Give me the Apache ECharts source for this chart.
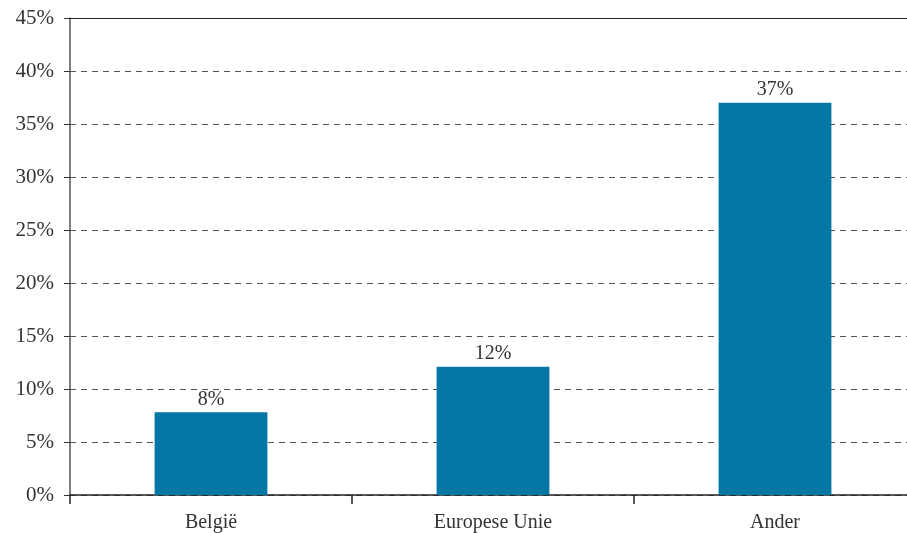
<!DOCTYPE html>
<html>
<head>
<meta charset="utf-8">
<script src="https://cdn.jsdelivr.net/npm/echarts@6/dist/echarts.min.js"></script>
<style>html,body{margin:0;padding:0;background:#fff}#c{width:907px;height:533px}</style>
</head>
<body>
<div id="c"></div>
<script>
const categories = ['België', 'Europese Unie', 'Ander'];
const values = [7.8, 12.1, 37.0];
const yTicks = [0, 5, 10, 15, 20, 25, 30, 35, 40, 45];

const chart = echarts.init(document.getElementById('c'), null, {renderer: 'canvas'});
const font = 'Liberation Serif';
chart.setOption({
  animation: false,
  grid: {left: 70, top: 18, width: 846, bottom: 38, containLabel: false, outerBoundsMode: 'none'},
  xAxis: [{
    type: 'category',
    data: categories,
    axisLine: {lineStyle: {color: '#222', width: 1.5}},
    axisTick: {show: true, length: 9, lineStyle: {color: '#222', width: 1.5}},
    axisLabel: {color: '#333', fontFamily: font, fontSize: 20, margin: 18}
  }, {
    type: 'category',
    position: 'top',
    data: categories,
    axisLine: {show: true, lineStyle: {color: '#222', width: 1.2}},
    axisTick: {show: false},
    axisLabel: {show: false}
  }],
  yAxis: {
    type: 'value',
    min: 0, max: 45, interval: 5,
    axisLine: {show: true, lineStyle: {color: '#555', width: 1.5}},
    axisTick: {show: true, length: 6, lineStyle: {color: '#333'}},
    axisLabel: {color: '#333', fontFamily: font, fontSize: 21, margin: 16,
      formatter: v => yTicks.includes(v) ? v + '%' : ''},
    splitLine: {show: true, lineStyle: {color: '#555', type: [6, 5], width: 1}}
  },
  series: [{
    type: 'bar',
    data: values,
    barWidth: '40%',
    itemStyle: {color: '#0477A4'},
    label: {show: true, position: 'top', distance: 3, color: '#333', fontFamily: font, fontSize: 20,
      formatter: p => Math.round(p.value) + '%'}
  }]
});
</script>
</body>
</html>
